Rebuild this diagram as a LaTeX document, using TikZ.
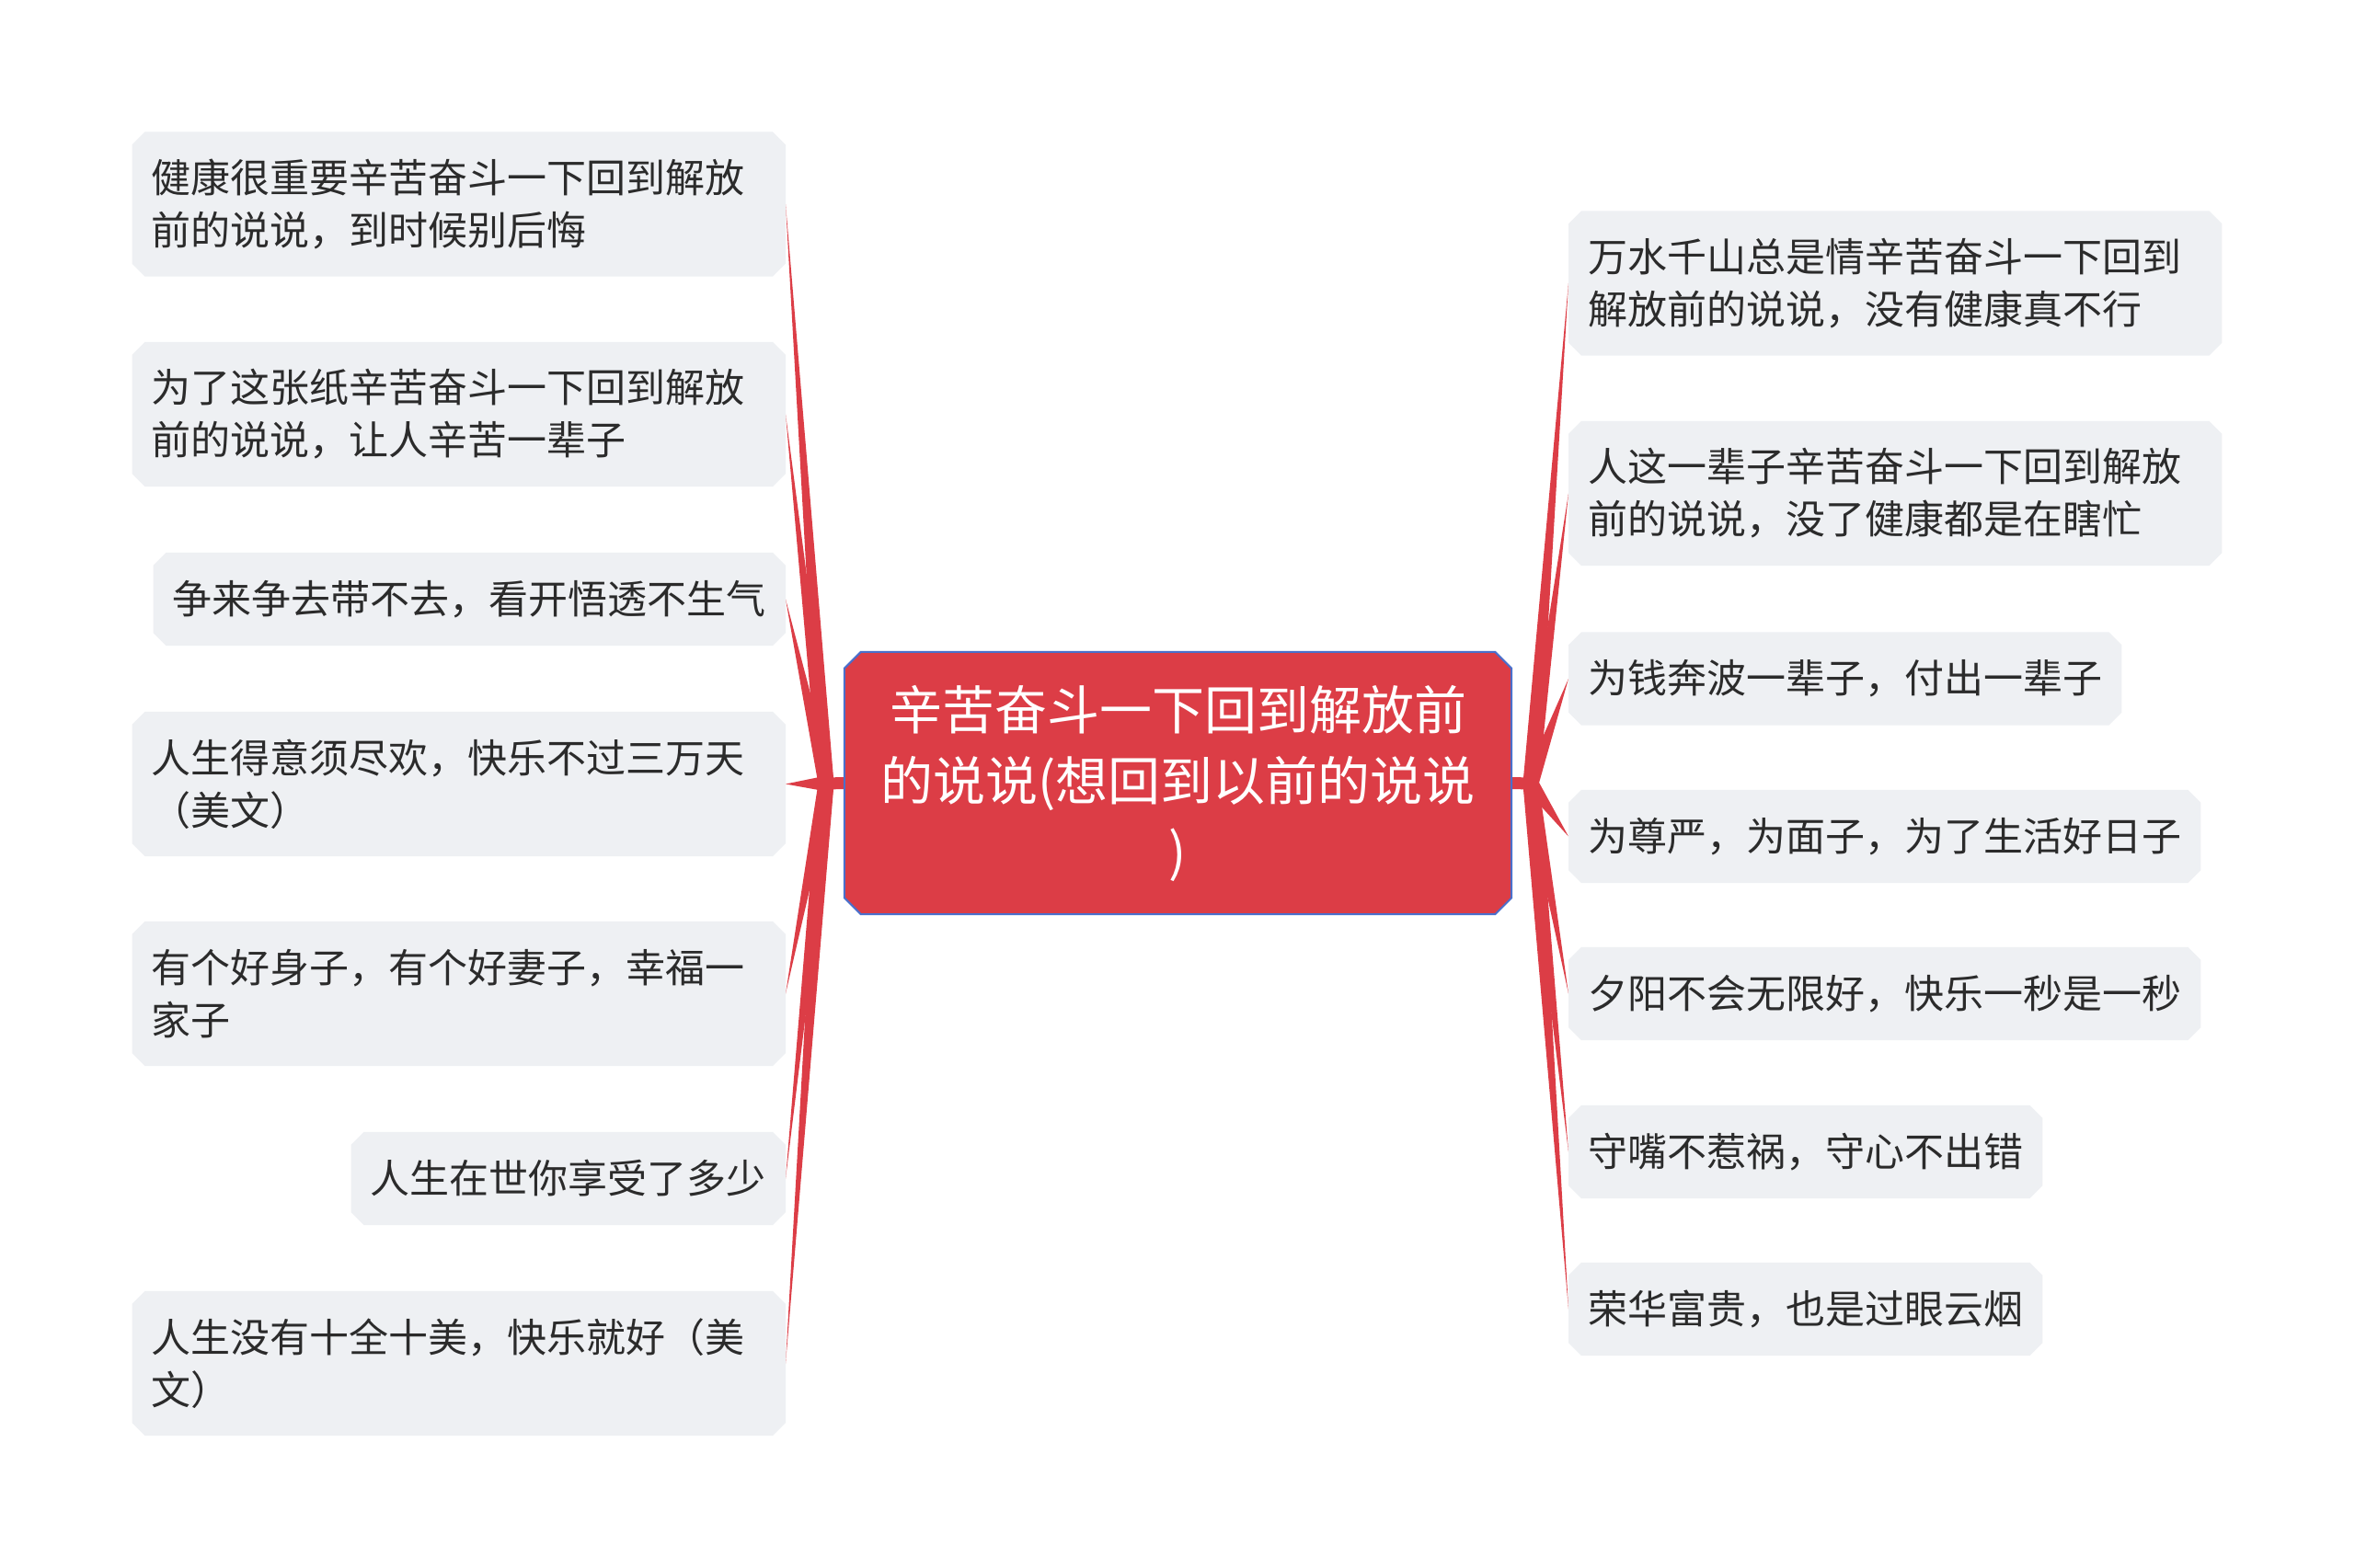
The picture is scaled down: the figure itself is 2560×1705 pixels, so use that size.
\documentclass[tikz,border=0pt]{standalone}
\usepackage{fontspec}
\newfontfamily\cjk{Noto Sans CJK SC}
\usetikzlibrary{calc,backgrounds}
\definecolor{redc}{HTML}{DC3D46}
\definecolor{bluec}{HTML}{4A6FCB}
\definecolor{leafc}{HTML}{EEF0F3}
\definecolor{txtc}{HTML}{2B2B2B}
\pgfdeclarelayer{paper}
\pgfsetlayers{paper,background,main}
\tikzset{
  leaf/.style={inner xsep=21pt, inner ysep=0pt, font=\cjk\fontsize{43}{57}\selectfont, text=txtc, align=left},
  leafone/.style={leaf, minimum height=101pt},
  leaftwo/.style={leaf, minimum height=157pt, text width=668pt},
  rootbox/.style={inner sep=0pt, minimum width=725pt, minimum height=285pt, font=\cjk\fontsize{57}{77}\selectfont, text=white, align=center},
  leaffill/.style={fill=leafc},
  rootfill/.style={fill=redc, draw=bluec, line width=2pt},
  branchfill/.style={fill=redc},
}
\newcommand\chamf[3]{%
  \path[#3] ($(#1.north west)+(#2,0)$) -- ($(#1.north east)+(-#2,0)$) -- ($(#1.north east)+(0,#2)$) -- ($(#1.south east)+(0,-#2)$) -- ($(#1.south east)+(-#2,0)$) -- ($(#1.south west)+(#2,0)$) -- ($(#1.south west)+(0,-#2)$) -- ($(#1.north west)+(0,#2)$) -- cycle;}
\newcommand\branch[2]{%
  \path[branchfill] ($(#1)!8.5pt!90:(#2)$) -- (#2) -- ($(#1)!8.5pt!-90:(#2)$) -- cycle;}
\begin{document}
\begin{tikzpicture}[x=1pt,y=-1pt]
\begin{pgfonlayer}{paper}
\fill[white] (0,0) rectangle (2560,1705);
\end{pgfonlayer}
\useasboundingbox (0,0) rectangle (2560,1705);
% centre
\node[rootbox] (C) at (1280.5,851.5) {辛苦奋斗一下回到解放前\\的说说(想回到以前的说说\\)};
% left
\node[leaftwo, anchor=east] (L1) at (854,222) {健康很重要辛苦奋斗一下回到解放\\前的说说，到时候别后悔};
\node[leaftwo, anchor=east] (L2) at (854,450.5) {为了这张纸辛苦奋斗一下回到解放\\前的说说，让人辛苦一辈子};
\node[leafone, anchor=east] (L3) at (854,651.5) {争来争去带不去，看开悟透不生气};
\node[leaftwo, anchor=east] (L4) at (854,852.5) {人生得意须尽欢，快乐不过三万天\\（美文）};
\node[leaftwo, anchor=east] (L5) at (854,1080.5) {有个好身子，有个好妻子，幸福一\\家子};
\node[leafone, anchor=east] (L6) at (854,1281.5) {人生在世你享受了多少};
\node[leaftwo, anchor=east] (L7) at (854,1482.5) {人生没有十全十美，快乐就好（美\\文）};
% right
\node[leaftwo, anchor=west] (R1) at (1705,308) {万水千山总是情辛苦奋斗一下回到\\解放前的说说，没有健康真不行};
\node[leaftwo, anchor=west] (R2) at (1705,536.5) {人这一辈子辛苦奋斗一下回到解放\\前的说说，没了健康都是在瞎忙};
\node[leafone, anchor=west] (R3) at (1705,738) {为钱奔波一辈子，付出一辈子};
\node[leafone, anchor=west] (R4) at (1705,909.5) {为尊严，为面子，为了生活好日子};
\node[leafone, anchor=west] (R5) at (1705,1080.5) {夕阳不会无限好，快乐一秒是一秒};
\node[leafone, anchor=west] (R6) at (1705,1252.5) {守嘴不惹祸，守心不出错};
\node[leafone, anchor=west] (R7) at (1705,1423.5) {荣华富贵，也是过眼云烟};
\coordinate (JL) at (898,852);
\coordinate (JR) at (1664,852);
\begin{pgfonlayer}{background}
  \draw[redc, line width=13pt] (C.west) -- (JL);
  \draw[redc, line width=13pt] (C.east) -- (JR);
  \foreach \n in {L1,L2,L3,L4,L5,L6,L7} {\branch{JL}{\n.east}}
  \foreach \n in {R1,R2,R3,R4,R5,R6,R7} {\branch{JR}{\n.west}}
  \foreach \n in {L1,L2,L3,L4,L5,L6,L7,R1,R2,R3,R4,R5,R6,R7} {\chamf{\n}{14}{leaffill}}
  \chamf{C}{18}{rootfill}
\end{pgfonlayer}
\end{tikzpicture}
\end{document}
